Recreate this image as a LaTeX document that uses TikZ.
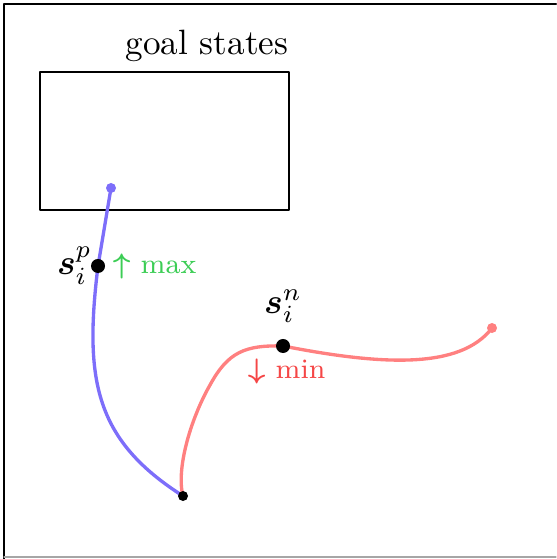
\documentclass[tikz,border=0pt]{standalone}
\usepackage{amsmath,amssymb,bm}
\usetikzlibrary{positioning}
\definecolor{pathblue}{RGB}{125,110,250}
\definecolor{pathred}{RGB}{255,128,128}
\definecolor{maxgreen}{RGB}{60,205,85}
\definecolor{minred}{RGB}{245,70,70}
\newcommand{\boldarrow}[1]{\rlap{\boldmath$#1$}\hphantom{$#1$}\hspace{3.5pt}}
\begin{document}
\begin{tikzpicture}[x=0.01cm, y=-0.01cm, line cap=round, line join=round, font=\normalsize,
		traj/.style={line width=0.95pt},
		bigdot/.style={circle, fill=black, inner sep=0pt, minimum size=0.14cm},
		enddot/.style={circle, inner sep=0pt, minimum size=0.1cm},
		hint/.style={font=\footnotesize, inner sep=1pt}]
	\useasboundingbox (0,0) rectangle (556,559);
	% frame of the state space
	\draw[line width=0.75pt] (4,559) -- (4,4) -- (556,4);
	\draw[gray!70, line width=0.3pt] (4,557) -- (556,557);
	% goal region
	\draw[line width=0.65pt] (40,72) rectangle (289,210);
	\node (goal) at (207,46) {goal states};
	% points along the two paths
	\coordinate (P0) at (111,188);
	\coordinate (Sp) at (98,266);
	\coordinate (St) at (183,496);
	\coordinate (Bend) at (210,385);
	\coordinate (Sn) at (283,346);
	\coordinate (N1) at (492,328);
	% positive path
	\draw[traj, pathblue] (P0) -- (Sp) .. controls (84,380) and (95,440) .. (St);
	% negative path
	\draw[traj, pathred] (St) .. controls (176,470) and (190,420) .. (Bend)
		.. controls (228,352) and (245,345) .. (Sn)
		.. controls (380,365) and (460,370) .. (N1);
	\node[enddot, fill=pathblue] (p0dot) at (P0) {};
	\node[enddot, fill=pathred] (n1dot) at (N1) {};
	\node[enddot, fill=black] (stdot) at (St) {};
	\node[bigdot] (spdot) at (Sp) {};
	\node[bigdot] (sndot) at (Sn) {};
	% labels
	\node[left=-4pt of spdot] (splab) {$\bm{s}_i^p$};
	\node[hint, right=1pt of spdot, text=maxgreen] (maxlab) {\boldarrow{\uparrow}max};
	\node[above=1pt of sndot] (snlab) {$\bm{s}_i^n$};
	\node[hint, text=minred] (minlab) at (287,371) {\boldarrow{\downarrow}min};
\end{tikzpicture}
\end{document}
